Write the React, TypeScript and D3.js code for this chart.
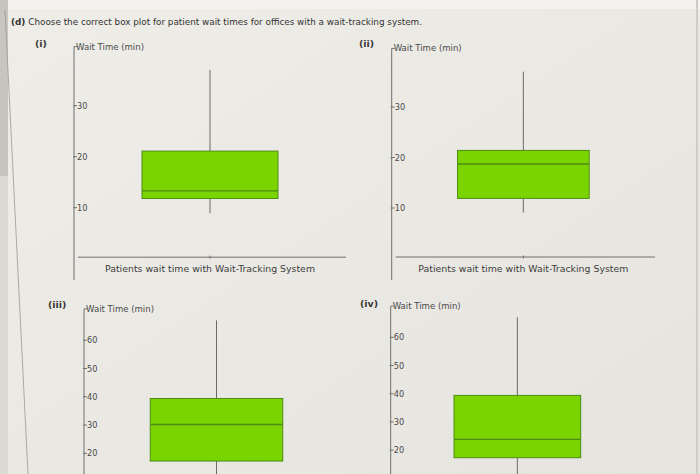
import React from "react";
import * as d3 from "d3";

const panelLabels = ["(i)", "(ii)", "(iii)", "(iv)"];
const category = "Patients wait time with Wait-Tracking System";
const lowWhisker = [8.9, 9.1, 8, 8];
const q1 = [11.8, 11.9, 17.3, 17.3];
const medians = [13.3, 18.7, 30.2, 23.8];
const q3 = [21.1, 21.4, 39.4, 39.4];
const highWhisker = [37, 37, 67, 67.1];
const topTicks = [10, 20, 30];
const bottomTicks = [20, 30, 40, 50, 60];
const yMax = [41, 41, 70, 70];
const yAxisTitle = "Wait Time (min)";
const header = "Choose the correct box plot for patient wait times for offices with a wait-tracking system.";

const W = 700;
const H = 474;

// layout per panel
const layout = [
  { axisX: 74, x1: 346, zeroY: 258.7, px10: 51.0, lx: 35, ly: 47, axisBottom: 280, showX: true },
  { axisX: 391.7, x1: 655, zeroY: 258.5, px10: 50.5, lx: 359, ly: 47, axisBottom: 280, showX: true },
  { axisX: 84, x1: 349, zeroY: 510, px10: 28.3, lx: 48, ly: 308, axisBottom: 480, showX: false },
  { axisX: 390.7, x1: 644, zeroY: 506.5, px10: 28.2, lx: 360, ly: 307, axisBottom: 480, showX: false },
];

const textColor = "#4a4a4a";
const axisColor = "#6e6e6e";
const boxFill = "#7ad400";
const boxStroke = "#4e8c14";
const font = "DejaVu Sans, Verdana, sans-serif";

function Panel({ i }: { i: number }) {
  const L = layout[i];
  const y = d3
    .scaleLinear()
    .domain([0, yMax[i]])
    .range([L.zeroY, L.zeroY - (yMax[i] * L.px10) / 10]);
  const x = d3
    .scaleBand<string>()
    .domain([category])
    .range([L.axisX, L.x1])
    .paddingInner(0)
    .paddingOuter(0.5);
  const ticks = i < 2 ? topTicks : bottomTicks;
  const bx = x(category) as number;
  const bw = x.bandwidth();
  const cx = bx + bw / 2;
  const axisTop = y(yMax[i]);
  return (
    <g>
      <text x={L.lx} y={L.ly} fontSize={9.5} fontWeight="bold" fill="#3a3a3a" fontFamily={font}>
        {panelLabels[i]}
      </text>
      {/* y axis */}
      <line x1={L.axisX} x2={L.axisX} y1={axisTop - 3} y2={L.axisBottom} stroke={axisColor} strokeWidth={1} />
      <line x1={L.axisX} x2={L.axisX + 3} y1={axisTop - 3} y2={axisTop - 3} stroke={axisColor} strokeWidth={1} />
      <text x={L.axisX + 2} y={axisTop} fontSize={8.2} fill={textColor} fontFamily={font} textLength={68} lengthAdjust="spacingAndGlyphs">
        {yAxisTitle}
      </text>
      {ticks.map((t) => (
        <g key={t}>
          <line x1={L.axisX - 1} x2={L.axisX + 3} y1={y(t)} y2={y(t)} stroke={axisColor} strokeWidth={1} />
          <text x={L.axisX + 3} y={y(t) + 3} fontSize={8.2} fill={textColor} fontFamily={font}>
            {t}
          </text>
        </g>
      ))}
      {/* x axis */}
      {L.showX && (
        <g>
          <line x1={L.axisX + 4} x2={L.x1} y1={y(0) - 1.5} y2={y(0) - 1.5} stroke={axisColor} strokeWidth={1} />
          <line x1={cx} x2={cx} y1={y(0) - 3} y2={y(0)} stroke={axisColor} strokeWidth={1} />
          <text x={cx} y={y(0) + 13} fontSize={8.4} fill="#3c3c3c" textAnchor="middle" fontFamily={font} textLength={210} lengthAdjust="spacingAndGlyphs">
            {category}
          </text>
        </g>
      )}
      {/* whiskers */}
      <line x1={cx} x2={cx} y1={y(highWhisker[i])} y2={y(q3[i])} stroke="#6a6a6a" strokeWidth={1} />
      <line x1={cx} x2={cx} y1={y(q1[i])} y2={y(lowWhisker[i])} stroke="#6a6a6a" strokeWidth={1} />
      {/* box */}
      <rect x={bx} y={y(q3[i])} width={bw} height={y(q1[i]) - y(q3[i])} fill={boxFill} stroke={boxStroke} strokeWidth={1} />
      <line x1={bx} x2={bx + bw} y1={y(medians[i])} y2={y(medians[i])} stroke={boxStroke} strokeWidth={1.4} />
    </g>
  );
}

export default function App() {
  return (
    <svg width={W} height={H} style={{ position: "absolute", left: 0, top: 0 }}>
      <defs>
        <linearGradient id="bg" x1="0" y1="0" x2="1" y2="1">
          <stop offset="0" stopColor="#eeede8" />
          <stop offset="1" stopColor="#e6e4de" />
        </linearGradient>
      </defs>
      <rect x={0} y={0} width={W} height={H} fill="url(#bg)" />
      <rect x={0} y={0} width={W} height={9} fill="#f3f2ee" />
      <rect x={0} y={0} width={8} height={H} fill="#dcdad4" />
      <rect x={0} y={0} width={8} height={176} fill="#c7c5bf" />
      <line x1={5} y1={10} x2={28} y2={H} stroke="#9a9894" strokeWidth={0.8} />
      <line x1={697} y1={0} x2={697} y2={H} stroke="#cfcdc7" strokeWidth={2} />
      <text x={11} y={25} fontSize={9} fill="#333" fontFamily={font} textLength={411} lengthAdjust="spacingAndGlyphs">
        <tspan fontWeight="bold">(d)</tspan>
        <tspan dx={3}>{header}</tspan>
      </text>
      {panelLabels.map((_, i) => (
        <Panel key={i} i={i} />
      ))}
    </svg>
  );
}
